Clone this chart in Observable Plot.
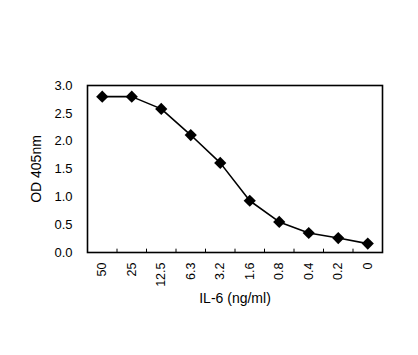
<!DOCTYPE html>
<html><head><meta charset="utf-8">
<script src="https://cdn.jsdelivr.net/npm/d3@7"></script>
<script src="https://cdn.jsdelivr.net/npm/@observablehq/plot@0.6"></script>
<style>body{margin:0;background:#fff;font-family:"Liberation Sans",Arial,sans-serif}</style>
</head><body><div id="chart"></div>
<script>
const concLabels = ["50","25","12.5","6.3","3.2","1.6","0.8","0.4","0.2","0"];
const odValues = [2.80,2.80,2.58,2.11,1.61,0.93,0.55,0.35,0.26,0.16];
const yTicks = [0,0.5,1,1.5,2,2.5,3];
const xTitle = "IL-6 (ng/ml)";
const yTitle = "OD 405nm";
const data = concLabels.map((c,i)=>({i, c, od: odValues[i]}));
const boundaries = concLabels.slice(1).map((_,k)=>k+0.5);
const chart = Plot.plot({
  width: 418, height: 355,
  marginLeft: 87, marginRight: 36, marginTop: 85, marginBottom: 103,
  style: {fontFamily: '"Liberation Sans",Arial,sans-serif', fontSize: "13px", color: "#000", background: "#fff"},
  x: {domain: [-0.5, 9.5]},
  y: {domain: [0,3]},
  marks: [
    Plot.axisY({ticks: yTicks, tickFormat: d3.format(".1f"), tickSize: 0, tickPadding: 15, label: null, fontSize: 13}),
    Plot.axisY({ticks: [], label: yTitle, labelAnchor: "center", labelArrow: "none", labelOffset: 56, fontSize: 14, dy: -6}),
    Plot.axisX({ticks: d3.range(concLabels.length), tickFormat: i => concLabels[i], tickSize: 0, tickRotate: -90, tickPadding: 10, label: null, fontSize: 12.5}),
    Plot.axisX({ticks: [], label: xTitle, labelAnchor: "center", labelArrow: "none", labelOffset: 50, fontSize: 14, dx: -15}),
    Plot.ruleX(boundaries, {x: d=>d, y1: 0, y2: 0.06, stroke: "#000", strokeWidth: 1}),
    Plot.frame({stroke: "#000", strokeWidth: 1.6}),
    Plot.line(data, {x: "i", y: "od", stroke: "#000", strokeWidth: 1.6}),
    Plot.dot(data, {x: "i", y: "od", symbol: "diamond2", fill: "#000", stroke: "none", r: 5.5})
  ]
});
document.getElementById("chart").appendChild(chart);
</script></body></html>
